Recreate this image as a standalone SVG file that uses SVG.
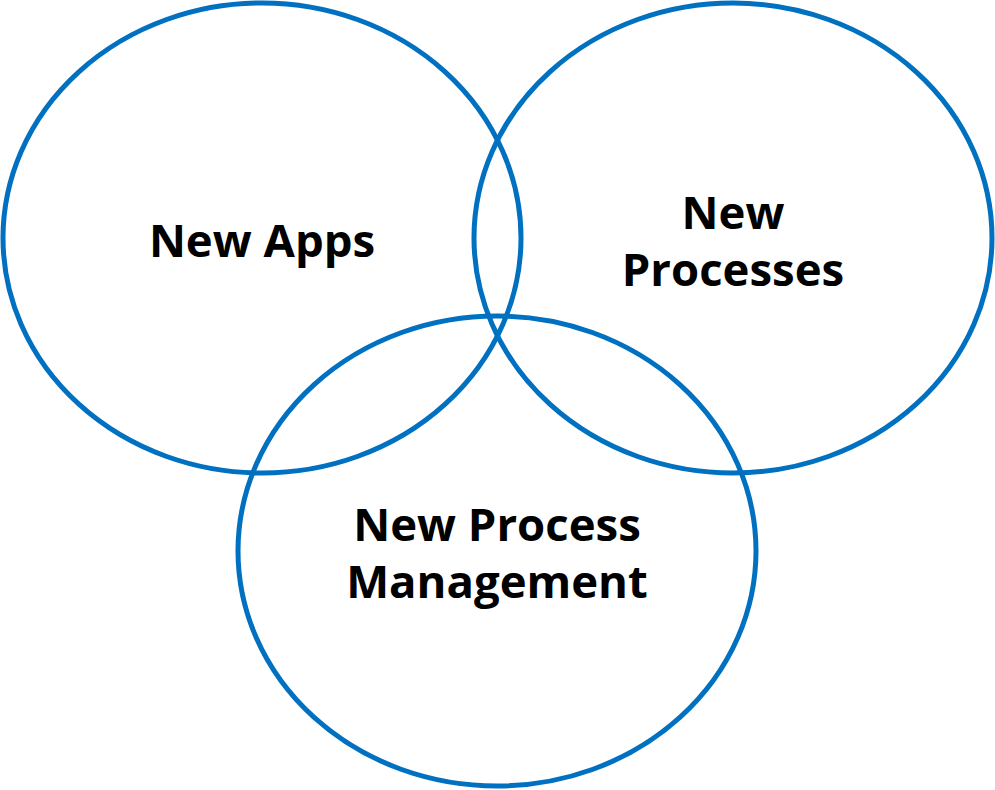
<svg xmlns="http://www.w3.org/2000/svg" width="995" height="790" viewBox="0 0 995 790">
<style>
.c{fill:none;stroke:#0070C0;stroke-width:5}
.t{font-family:"Open Sans","Noto Sans",sans-serif;font-weight:bold;font-size:45.5px;fill:#000;text-anchor:middle}
</style>
<rect width="995" height="790" fill="#fff"/>
<g id="apps"><ellipse class="c" cx="262" cy="238" rx="259" ry="235"/><text class="t" x="262" y="257">New Apps</text></g>
<g id="processes"><ellipse class="c" cx="733" cy="238" rx="259" ry="235"/><text class="t" x="733" y="229">New</text><text class="t" x="733" y="286">Processes</text></g>
<g id="management"><ellipse class="c" cx="497" cy="551" rx="259" ry="235"/><text class="t" x="497" y="541">New Process</text><text class="t" x="497" y="598">Management</text></g>
</svg>
